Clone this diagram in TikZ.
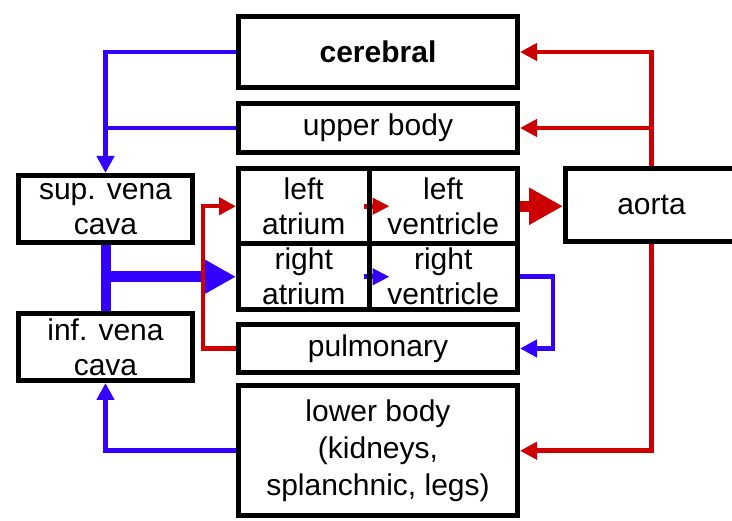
\documentclass[tikz,border=0pt]{standalone}
\usepackage{fontspec}
\setmainfont{Liberation Sans}
\usetikzlibrary{arrows.meta,backgrounds}
\definecolor{vein}{RGB}{51,0,255}
\definecolor{artery}{RGB}{204,0,0}

\begin{document}
\begin{tikzpicture}[x=1pt,y=-1pt,
  box/.style={draw=black, line width=5pt, rectangle, inner sep=0pt,
    align=center, font=\fontsize{30}{35}\selectfont},
  veinline/.style={draw=vein, line width=4.5pt},
  veinarrow/.style={veinline, -{Triangle[length=17pt,width=17pt]}},
  arteryline/.style={draw=artery, line width=4.5pt},
  arteryarrow/.style={arteryline, -{Triangle[length=17pt,width=17pt]}},
  valve/.style={line width=5pt, -{Triangle[length=17pt,width=16pt]}},
  bigvein/.style={draw=vein, line width=10pt},
  bigarrow/.style={line width=11pt, -{Triangle[length=34pt,width=35pt]}}
]
\useasboundingbox (0,0) rectangle (732,521);

% organ compartments
\node[box, minimum width=279, minimum height=71] (cer) at (378,52) {\textbf{cerebral}};
\node[box, minimum width=279, minimum height=49] (up)  at (378,128) {upper body};
\node[box, minimum width=130.5, minimum height=75.5] (la) at (303.75,206.25) {left\\atrium};
\node[box, minimum width=148.5, minimum height=75.5] (lv) at (443.25,206.25) {left\\ventricle};
\node[box, minimum width=130.5, minimum height=65.5] (ra) at (303.75,276.75) {right\\atrium};
\node[box, minimum width=148.5, minimum height=65.5] (rv) at (443.25,276.75) {right\\ventricle};
\node[box, minimum width=279, minimum height=48] (pm)  at (378,348.5) {pulmonary};
\node[box, minimum width=279, minimum height=130.5, font=\fontsize{30}{37}\selectfont] (low) at (378,450.75)
  {lower body\\(kidneys,\\splanchnic, legs)};
\node[box, minimum width=174, minimum height=67] (svc) at (105.5,209) {sup. vena\\cava};
\node[box, minimum width=174, minimum height=67] (ivc) at (105.5,347) {inf. vena\\cava};
\node[box, minimum width=172, minimum height=73] (ao)  at (651.5,205) {aorta};

\begin{scope}[on background layer]
  % venous return
  \draw[veinarrow] (cer.west) -| (svc.north);
  \draw[veinline] (up.west) -- (up.west -| svc.north);
  \draw[veinarrow] (low.west) -| (ivc.south);
  \draw[bigvein] (svc.south) -- (ivc.north);
  \draw[bigarrow, vein] (svc.south |- ra.west) -- (ra.west);
  \draw[valve, vein] ([xshift=-8pt]ra.east) -- ([xshift=23pt]rv.west);
  \draw[veinarrow] (rv.east) -- ++(33,0) |- (pm.east);
  % arterial supply
  \draw[arteryarrow] (pm.west) -- ++(-33,0) |- (la.west);
  \draw[valve, artery] ([xshift=-8pt]la.east) -- ([xshift=23pt]lv.west);
  \draw[bigarrow, artery] (lv.east) -- (lv.east -| ao.west);
  \draw[arteryarrow] (ao.north) |- (cer.east);
  \draw[arteryarrow] (ao.north |- up.east) -- (up.east);
  \draw[arteryarrow] (ao.south) |- (low.east);
\end{scope}
\end{tikzpicture}
\end{document}
